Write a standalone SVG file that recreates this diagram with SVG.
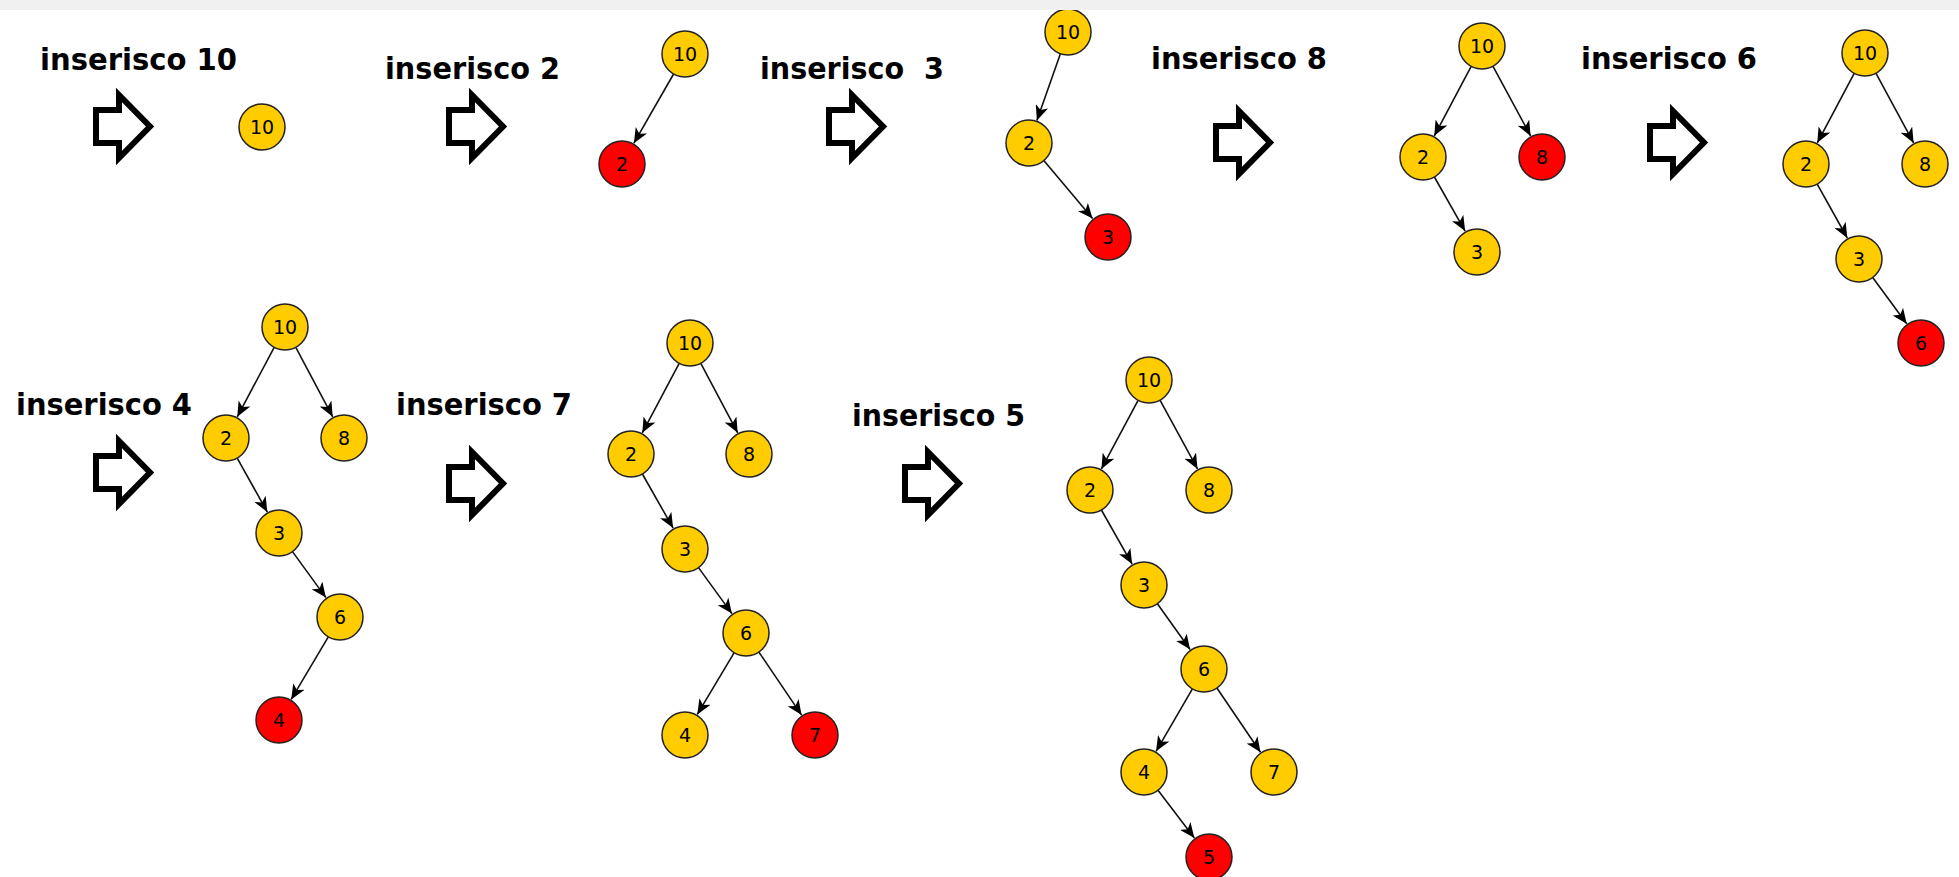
<svg xmlns="http://www.w3.org/2000/svg" xmlns:xlink="http://www.w3.org/1999/xlink" width="1959" height="877" viewBox="0 0 1959 877">
<style>
.lbl{font-family:"DejaVu Sans","Liberation Sans",sans-serif;font-weight:bold;font-size:31px;fill:#000;white-space:pre}
.nt{font-family:"DejaVu Sans","Liberation Sans",sans-serif;font-size:19px;fill:#000;text-anchor:middle}
.y{fill:#FFCC00;stroke:#222;stroke-width:1.5}
.r{fill:#FF0000;stroke:#222;stroke-width:1.5}
.e{stroke:#111;stroke-width:1.6;fill:none;marker-end:url(#ah)}
</style>
<defs>
<marker id="ah" viewBox="0 0 15 13" refX="15" refY="6.5" markerWidth="15" markerHeight="13" markerUnits="userSpaceOnUse" orient="auto">
<path d="M0,0 L15,6.5 L0,13 L4,6.5 Z" fill="#000"/>
</marker>
<path id="bigArrow" d="M3,23 H26 V8 L57,39.5 L26,71 V56 H3 Z" fill="#fff" stroke="#000" stroke-width="6" stroke-miterlimit="10"/>
</defs>
<rect x="0" y="0" width="1959" height="877" fill="#fff"/>

<g id="labels">
<text class="lbl" x="40" y="70" textLength="197" lengthAdjust="spacingAndGlyphs">inserisco 10</text>
<text class="lbl" x="385" y="79" textLength="175" lengthAdjust="spacingAndGlyphs">inserisco 2</text>
<text class="lbl" x="760" y="79" textLength="184" lengthAdjust="spacingAndGlyphs" xml:space="preserve">inserisco  3</text>
<text class="lbl" x="1151" y="69" textLength="176" lengthAdjust="spacingAndGlyphs">inserisco 8</text>
<text class="lbl" x="1581" y="69" textLength="176" lengthAdjust="spacingAndGlyphs">inserisco 6</text>
<text class="lbl" x="16" y="415" textLength="176" lengthAdjust="spacingAndGlyphs">inserisco 4</text>
<text class="lbl" x="396" y="415" textLength="176" lengthAdjust="spacingAndGlyphs">inserisco 7</text>
<text class="lbl" x="852" y="426" textLength="173" lengthAdjust="spacingAndGlyphs">inserisco 5</text>
</g>

<g id="step-arrows">
<use xlink:href="#bigArrow" x="93" y="87"/>
<use xlink:href="#bigArrow" x="446" y="87"/>
<use xlink:href="#bigArrow" x="826" y="87"/>
<use xlink:href="#bigArrow" x="1213" y="103"/>
<use xlink:href="#bigArrow" x="1647" y="103"/>
<use xlink:href="#bigArrow" x="93" y="433"/>
<use xlink:href="#bigArrow" x="446" y="444"/>
<use xlink:href="#bigArrow" x="902" y="444"/>
</g>

<g id="connectors">
<line class="e" x1="673.6" y1="74.0" x2="633.9" y2="143.2"/>
<line class="e" x1="1060.4" y1="53.7" x2="1036.9" y2="120.4"/>
<line class="e" x1="1043.8" y1="160.6" x2="1092.6" y2="218.6"/>
<line class="e" x1="1471.2" y1="66.3" x2="1434.3" y2="135.8"/>
<line class="e" x1="1492.9" y1="66.2" x2="1530.6" y2="135.9"/>
<line class="e" x1="1434.4" y1="177.0" x2="1465.1" y2="231.1"/>
<line class="e" x1="1854.2" y1="73.3" x2="1817.3" y2="142.8"/>
<line class="e" x1="1875.9" y1="73.2" x2="1913.6" y2="142.9"/>
<line class="e" x1="1817.2" y1="184.1" x2="1847.3" y2="238.0"/>
<line class="e" x1="1872.7" y1="277.5" x2="1906.7" y2="323.7"/>
<line class="e" x1="274.2" y1="347.3" x2="237.3" y2="416.8"/>
<line class="e" x1="295.8" y1="347.3" x2="332.7" y2="416.8"/>
<line class="e" x1="237.2" y1="458.1" x2="267.3" y2="512.0"/>
<line class="e" x1="292.5" y1="551.6" x2="325.9" y2="597.6"/>
<line class="e" x1="328.3" y1="636.8" x2="291.2" y2="699.4"/>
<line class="e" x1="679.2" y1="363.3" x2="642.3" y2="432.8"/>
<line class="e" x1="700.8" y1="363.3" x2="737.7" y2="432.8"/>
<line class="e" x1="642.4" y1="474.0" x2="673.1" y2="528.1"/>
<line class="e" x1="698.5" y1="567.6" x2="731.9" y2="613.6"/>
<line class="e" x1="734.2" y1="652.7" x2="697.3" y2="714.4"/>
<line class="e" x1="758.9" y1="652.1" x2="801.6" y2="715.1"/>
<line class="e" x1="1138.1" y1="400.3" x2="1101.4" y2="468.9"/>
<line class="e" x1="1160.0" y1="400.2" x2="1197.5" y2="468.9"/>
<line class="e" x1="1101.4" y1="510.0" x2="1132.1" y2="564.1"/>
<line class="e" x1="1157.4" y1="603.7" x2="1190.1" y2="649.5"/>
<line class="e" x1="1192.4" y1="688.9" x2="1156.1" y2="751.3"/>
<line class="e" x1="1216.9" y1="688.0" x2="1260.5" y2="752.2"/>
<line class="e" x1="1158.0" y1="790.3" x2="1194.4" y2="837.9"/>
</g>

<g id="t1-n10"><circle class="y" cx="262" cy="127" r="23"/><text class="nt" x="262" y="134">10</text></g>

<g id="t2-n10"><circle class="y" cx="685" cy="54" r="23"/><text class="nt" x="685" y="61">10</text></g>
<g id="t2-n2"><circle class="r" cx="622" cy="164" r="23"/><text class="nt" x="622" y="171">2</text></g>

<g id="t3-n10"><circle class="y" cx="1068" cy="32" r="23"/><text class="nt" x="1068" y="39">10</text></g>
<g id="t3-n2"><circle class="y" cx="1029" cy="143" r="23"/><text class="nt" x="1029" y="150">2</text></g>
<g id="t3-n3"><circle class="r" cx="1108" cy="237" r="23"/><text class="nt" x="1108" y="244">3</text></g>

<g id="t4-n10"><circle class="y" cx="1482" cy="46" r="23"/><text class="nt" x="1482" y="53">10</text></g>
<g id="t4-n2"><circle class="y" cx="1423" cy="157" r="23"/><text class="nt" x="1423" y="164">2</text></g>
<g id="t4-n8"><circle class="r" cx="1542" cy="157" r="23"/><text class="nt" x="1542" y="164">8</text></g>
<g id="t4-n3"><circle class="y" cx="1477" cy="252" r="23"/><text class="nt" x="1477" y="259">3</text></g>

<g id="t5-n10"><circle class="y" cx="1865" cy="53" r="23"/><text class="nt" x="1865" y="60">10</text></g>
<g id="t5-n2"><circle class="y" cx="1806" cy="164" r="23"/><text class="nt" x="1806" y="171">2</text></g>
<g id="t5-n8"><circle class="y" cx="1925" cy="164" r="23"/><text class="nt" x="1925" y="171">8</text></g>
<g id="t5-n3"><circle class="y" cx="1859" cy="259" r="23"/><text class="nt" x="1859" y="266">3</text></g>
<g id="t5-n6"><circle class="r" cx="1921" cy="343" r="23"/><text class="nt" x="1921" y="350">6</text></g>

<g id="t6-n10"><circle class="y" cx="285" cy="327" r="23"/><text class="nt" x="285" y="334">10</text></g>
<g id="t6-n2"><circle class="y" cx="226" cy="438" r="23"/><text class="nt" x="226" y="445">2</text></g>
<g id="t6-n8"><circle class="y" cx="344" cy="438" r="23"/><text class="nt" x="344" y="445">8</text></g>
<g id="t6-n3"><circle class="y" cx="279" cy="533" r="23"/><text class="nt" x="279" y="540">3</text></g>
<g id="t6-n6"><circle class="y" cx="340" cy="617" r="23"/><text class="nt" x="340" y="624">6</text></g>
<g id="t6-n4"><circle class="r" cx="279" cy="720" r="23"/><text class="nt" x="279" y="727">4</text></g>

<g id="t7-n10"><circle class="y" cx="690" cy="343" r="23"/><text class="nt" x="690" y="350">10</text></g>
<g id="t7-n2"><circle class="y" cx="631" cy="454" r="23"/><text class="nt" x="631" y="461">2</text></g>
<g id="t7-n8"><circle class="y" cx="749" cy="454" r="23"/><text class="nt" x="749" y="461">8</text></g>
<g id="t7-n3"><circle class="y" cx="685" cy="549" r="23"/><text class="nt" x="685" y="556">3</text></g>
<g id="t7-n6"><circle class="y" cx="746" cy="633" r="23"/><text class="nt" x="746" y="640">6</text></g>
<g id="t7-n4"><circle class="y" cx="685" cy="735" r="23"/><text class="nt" x="685" y="742">4</text></g>
<g id="t7-n7"><circle class="r" cx="815" cy="735" r="23"/><text class="nt" x="815" y="742">7</text></g>

<g id="t8-n10"><circle class="y" cx="1149" cy="380" r="23"/><text class="nt" x="1149" y="387">10</text></g>
<g id="t8-n2"><circle class="y" cx="1090" cy="490" r="23"/><text class="nt" x="1090" y="497">2</text></g>
<g id="t8-n8"><circle class="y" cx="1209" cy="490" r="23"/><text class="nt" x="1209" y="497">8</text></g>
<g id="t8-n3"><circle class="y" cx="1144" cy="585" r="23"/><text class="nt" x="1144" y="592">3</text></g>
<g id="t8-n6"><circle class="y" cx="1204" cy="669" r="23"/><text class="nt" x="1204" y="676">6</text></g>
<g id="t8-n4"><circle class="y" cx="1144" cy="772" r="23"/><text class="nt" x="1144" y="779">4</text></g>
<g id="t8-n7"><circle class="y" cx="1274" cy="772" r="23"/><text class="nt" x="1274" y="779">7</text></g>
<g id="t8-n5"><circle class="r" cx="1209" cy="857" r="23"/><text class="nt" x="1209" y="864">5</text></g>

<rect id="top-band" x="0" y="0" width="1959" height="10" fill="#f0f0f0"/>
</svg>
